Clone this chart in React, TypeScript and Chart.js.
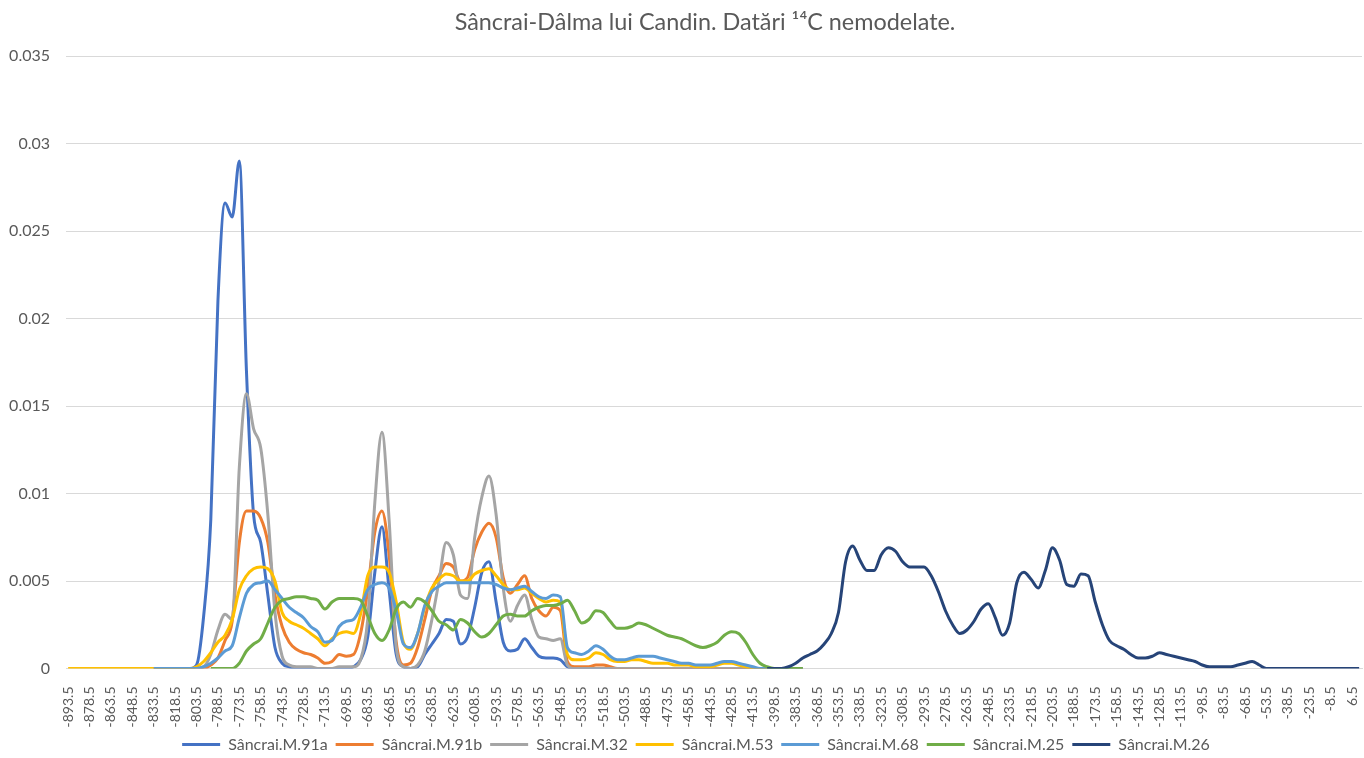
import React, { useEffect, useRef } from "react";
import { Chart, registerables } from "chart.js";

Chart.register(...registerables);

const TITLE = "Sâncrai-Dâlma lui Candin. Datări ¹⁴C nemodelate.";
const STEP = 5; // years between readings

const SERIES_NAMES = [
  "Sâncrai.M.91a",
  "Sâncrai.M.91b",
  "Sâncrai.M.32",
  "Sâncrai.M.53",
  "Sâncrai.M.68",
  "Sâncrai.M.25",
  "Sâncrai.M.26",
];
const SERIES_COLORS = ["#4472C4", "#ED7D31", "#A5A5A5", "#FFC000", "#5B9BD5", "#70AD47", "#264478"];

const X_TICKS = [
  -893.5, -878.5, -863.5, -848.5, -833.5, -818.5, -803.5, -788.5, -773.5, -758.5, -743.5, -728.5,
  -713.5, -698.5, -683.5, -668.5, -653.5, -638.5, -623.5, -608.5, -593.5, -578.5, -563.5, -548.5,
  -533.5, -518.5, -503.5, -488.5, -473.5, -458.5, -443.5, -428.5, -413.5, -398.5, -383.5, -368.5,
  -353.5, -338.5, -323.5, -308.5, -293.5, -278.5, -263.5, -248.5, -233.5, -218.5, -203.5, -188.5,
  -173.5, -158.5, -143.5, -128.5, -113.5, -98.5, -83.5, -68.5, -53.5, -38.5, -23.5, -8.5, 6.5,
];
const Y_MIN = 0;
const Y_MAX = 0.035;
const Y_STEP = 0.005;

// first year of each series (readings every STEP years)
const M91A_START = -833.5;
const M91A = [
  0, 0, 0, 0, 0, 0, 0.0002, 0.003, 0.0085, 0.021, 0.0266, 0.0258, 0.029, 0.017, 0.0088, 0.0072,
  0.0042, 0.0012, 0.0003, 0.0001, 0, 0, 0, 0, 0, 0, 0, 0, 0.0001, 0.0005, 0.0018, 0.0055, 0.0081,
  0.0045, 0.0008, 0.0001, 0, 0.0001, 0.0008, 0.0014, 0.002, 0.0028, 0.0027, 0.0014, 0.0018, 0.0035,
  0.0055, 0.0061, 0.0038, 0.0015, 0.001, 0.0011, 0.0017, 0.0012, 0.0007, 0.0006, 0.0006, 0.0005,
  0.0001, 0, 0, 0, 0, 0, 0, 0, 0, 0, 0, 0, 0, 0, 0, 0, 0, 0, 0, 0, 0, 0, 0, 0, 0, 0, 0, 0, 0, 0, 0,
  0, 0, 0,
];

const M91B_START = -833.5;
const M91B = [
  0, 0, 0, 0, 0, 0, 0, 0, 0.0002, 0.0006, 0.0016, 0.0027, 0.0072, 0.009, 0.009, 0.0086, 0.0072,
  0.0042, 0.0024, 0.0015, 0.0011, 0.0009, 0.0008, 0.0006, 0.0003, 0.0004, 0.0008, 0.0007, 0.0008,
  0.002, 0.0045, 0.0078, 0.009, 0.0065, 0.0015, 0.0002, 0.0003, 0.0012, 0.0028, 0.0045, 0.0053,
  0.006, 0.0058, 0.005, 0.0052, 0.0068, 0.0078, 0.0083, 0.0075, 0.0052, 0.0043, 0.0048, 0.0053,
  0.004, 0.0033, 0.003, 0.0035, 0.0033, 0.0004, 0.0001, 0.0001, 0.0001, 0.0002, 0.0002, 0.0001, 0,
  0, 0, 0, 0, 0, 0, 0, 0, 0, 0, 0, 0, 0, 0, 0, 0, 0, 0, 0, 0, 0, 0, 0, 0, 0, 0,
];

const M32_START = -833.5;
const M32 = [
  0, 0, 0, 0, 0, 0, 0, 0.0001, 0.0008, 0.0022, 0.0031, 0.0028, 0.0115, 0.0157, 0.0137, 0.0126,
  0.0088, 0.0032, 0.0007, 0.0002, 0.0001, 0.0001, 0.0001, 0, 0, 0, 0.0001, 0.0001, 0.0001, 0.0005,
  0.0028, 0.0095, 0.0135, 0.0085, 0.0012, 0.0001, 0, 0.0002, 0.001, 0.0028, 0.005, 0.0072, 0.0065,
  0.0042, 0.004, 0.0075, 0.0098, 0.011, 0.0088, 0.0046, 0.0027, 0.0036, 0.0042, 0.0028, 0.0018,
  0.0017, 0.0016, 0.0017, 0.0002, 0, 0, 0, 0, 0, 0, 0, 0, 0, 0, 0, 0, 0, 0, 0, 0, 0, 0, 0, 0, 0, 0,
  0, 0, 0, 0, 0, 0, 0, 0, 0, 0, 0,
];

const M53_START = -893.5;
const M53 = [
  0, 0, 0, 0, 0, 0, 0, 0, 0, 0, 0, 0, 0, 0, 0, 0, 0, 0, 0.0001, 0.0004, 0.0009, 0.0015, 0.0019,
  0.0028, 0.0045, 0.0053, 0.0057, 0.0058, 0.0057, 0.005, 0.0032, 0.0027, 0.0025, 0.0023, 0.002,
  0.0017, 0.0013, 0.0017, 0.002, 0.0021, 0.002, 0.0031, 0.0053, 0.0058, 0.0058, 0.0055, 0.0038,
  0.0015, 0.0011, 0.002, 0.0035, 0.0046, 0.0051, 0.0054, 0.0053, 0.005, 0.005, 0.0054, 0.0056,
  0.0057, 0.0053, 0.0048, 0.0045, 0.0045, 0.0046, 0.0043, 0.004, 0.0038, 0.0039, 0.0038, 0.0008,
  0.0005, 0.0005, 0.0006, 0.0009, 0.0008, 0.0005, 0.0004, 0.0004, 0.0005, 0.0005, 0.0004, 0.0003,
  0.0003, 0.0003, 0.0002, 0.0002, 0.0002, 0.0001, 0.0001, 0.0001, 0.0002, 0.0003, 0.0003, 0.0002,
  0.0001, 0, 0, 0, 0, 0, 0, 0, 0,
];

const M68_START = -833.5;
const M68 = [
  0, 0, 0, 0, 0, 0, 0, 0.0001, 0.0003, 0.0006, 0.001, 0.0013, 0.0029, 0.0043, 0.0048, 0.0049,
  0.005, 0.0045, 0.004, 0.0035, 0.0032, 0.0029, 0.0024, 0.0021, 0.0015, 0.0016, 0.0024, 0.0027,
  0.0028, 0.0035, 0.0045, 0.0048, 0.0049, 0.0046, 0.0033, 0.0014, 0.0012, 0.002, 0.0036, 0.0044,
  0.0047, 0.0049, 0.0049, 0.0049, 0.0049, 0.0049, 0.0049, 0.0049, 0.0048, 0.0046, 0.0045, 0.0046,
  0.0047, 0.0044, 0.0041, 0.004, 0.0042, 0.0041, 0.0012, 0.0009, 0.0008, 0.001, 0.0013, 0.0011,
  0.0007, 0.0005, 0.0005, 0.0006, 0.0007, 0.0007, 0.0007, 0.0006, 0.0005, 0.0004, 0.0003, 0.0003,
  0.0002, 0.0002, 0.0002, 0.0003, 0.0004, 0.0004, 0.0003, 0.0002, 0.0001, 0, 0, 0, 0, 0, 0, 0,
];

const M25_START = -793.5;
const M25 = [
  0, 0, 0, 0, 0.0003, 0.001, 0.0014, 0.0017, 0.0026, 0.0035, 0.0039, 0.004, 0.0041, 0.0041, 0.004,
  0.0039, 0.0034, 0.0038, 0.004, 0.004, 0.004, 0.0039, 0.003, 0.002, 0.0016, 0.0022, 0.0034,
  0.0038, 0.0035, 0.004, 0.0038, 0.0033, 0.0027, 0.0025, 0.0022, 0.0028, 0.0026, 0.0021, 0.0018,
  0.002, 0.0025, 0.003, 0.0031, 0.003, 0.003, 0.0033, 0.0035, 0.0036, 0.0036, 0.0037, 0.0039,
  0.0033, 0.0026, 0.0028, 0.0033, 0.0032, 0.0027, 0.0023, 0.0023, 0.0024, 0.0026, 0.0025, 0.0023,
  0.0021, 0.0019, 0.0018, 0.0017, 0.0015, 0.0013, 0.0012, 0.0013, 0.0015, 0.0019, 0.0021, 0.002,
  0.0015, 0.0008, 0.0003, 0.0001, 0, 0, 0, 0, 0,
];

const M26_START = -403.5;
const M26 = [
  0, 0, 0, 0.0001, 0.0003, 0.0006, 0.0008, 0.001, 0.0014, 0.002, 0.0032, 0.0061, 0.007, 0.0062,
  0.0056, 0.0056, 0.0065, 0.0069, 0.0067, 0.0061, 0.0058, 0.0058, 0.0058, 0.0053, 0.0044, 0.0033,
  0.0025, 0.002, 0.0022, 0.0027, 0.0034, 0.0037, 0.0029, 0.0019, 0.0026, 0.0049, 0.0055, 0.0051,
  0.0046, 0.0056, 0.0069, 0.0062, 0.0048, 0.0047, 0.0054, 0.0053, 0.0038, 0.0025, 0.0016, 0.0013,
  0.0011, 0.0008, 0.0006, 0.0006, 0.0007, 0.0009, 0.0008, 0.0007, 0.0006, 0.0005, 0.0004, 0.0002,
  0.0001, 0.0001, 0.0001, 0.0001, 0.0002, 0.0003, 0.0004, 0.0002, 0, 0, 0, 0, 0, 0, 0, 0, 0, 0, 0,
  0, 0, 0,
];

const SERIES_STARTS = [M91A_START, M91B_START, M32_START, M53_START, M68_START, M25_START, M26_START];
const SERIES_VALUES = [M91A, M91B, M32, M53, M68, M25, M26];

const TEXT_COLOR = "#595959";
const GRID_COLOR = "#D9D9D9";
const FONT = "Lato, 'Open Sans', sans-serif";

// nudges title and legend to where the original placed them
const blockOffsets = {
  id: "blockOffsets",
  afterLayout(chart: any) {
    const t = chart.titleBlock;
    if (t) {
      t.left += 44;
    }
    const l = chart.legend;
    if (l) {
      l.left += 26;
    }
  },
};

export default function App() {
  const canvasRef = useRef<HTMLCanvasElement | null>(null);

  useEffect(() => {
    if (!canvasRef.current) return;
    const n = SERIES_NAMES.length;
    const datasets = SERIES_NAMES.map((name, i) => ({
      label: name,
      data: SERIES_VALUES[i].map((y, j) => ({ x: SERIES_STARTS[i] + j * STEP, y })),
      borderColor: SERIES_COLORS[i],
      backgroundColor: SERIES_COLORS[i],
      borderWidth: 3,
      pointRadius: 0,
      fill: false,
      cubicInterpolationMode: "monotone" as const,
      order: n - 1 - i,
    }));

    const chart = new Chart(canvasRef.current, {
      type: "line",
      data: { datasets },
      plugins: [blockOffsets],
      options: {
        animation: false,
        responsive: true,
        maintainAspectRatio: false,
        layout: { padding: { left: 4, right: 2, top: 4, bottom: -4.5 } },
        plugins: {
          title: {
            display: true,
            text: TITLE,
            color: TEXT_COLOR,
            font: { family: FONT, size: 23.4, weight: "normal" },
            padding: { top: 4, bottom: 20 },
          },
          legend: {
            position: "bottom",
            labels: {
              color: TEXT_COLOR,
              font: { family: FONT, size: 16 },
              usePointStyle: true,
              pointStyle: "line",
              pointStyleWidth: 38,
              boxHeight: 14,
              padding: 8,
              sort: (a: any, b: any) => a.datasetIndex - b.datasetIndex,
            },
          },
          tooltip: { enabled: false },
        },
        scales: {
          x: {
            type: "linear",
            min: -895,
            max: 13.5,
            afterBuildTicks: (s: any) => {
              s.ticks = X_TICKS.map((v) => ({ value: v }));
            },
            afterFit: (s: any) => {
              s.height = 60;
              s.paddingLeft = 0;
              s.paddingRight = 0;
            },
            ticks: {
              autoSkip: false,
              minRotation: 90,
              maxRotation: 90,
              color: TEXT_COLOR,
              font: { family: FONT, size: 14 },
              padding: 10,
              callback: (v: any) => String(v),
            },
            grid: { display: false },
            border: { display: true, color: GRID_COLOR },
          },
          y: {
            min: Y_MIN,
            max: Y_MAX,
            afterFit: (s: any) => {
              s.width = 62;
            },
            ticks: {
              stepSize: Y_STEP,
              color: TEXT_COLOR,
              font: { family: FONT, size: 16 },
              padding: 16,
              callback: (v: any) => String(Number(Number(v).toFixed(3))),
            },
            grid: { color: GRID_COLOR, drawTicks: false },
            border: { display: false },
          },
        },
      },
    });
    return () => chart.destroy();
  }, []);

  return (
    <div
      style={{
        position: "fixed",
        left: 0,
        top: 0,
        width: 1364,
        height: 758,
        background: "#ffffff",
      }}
    >
      <canvas ref={canvasRef} />
    </div>
  );
}
